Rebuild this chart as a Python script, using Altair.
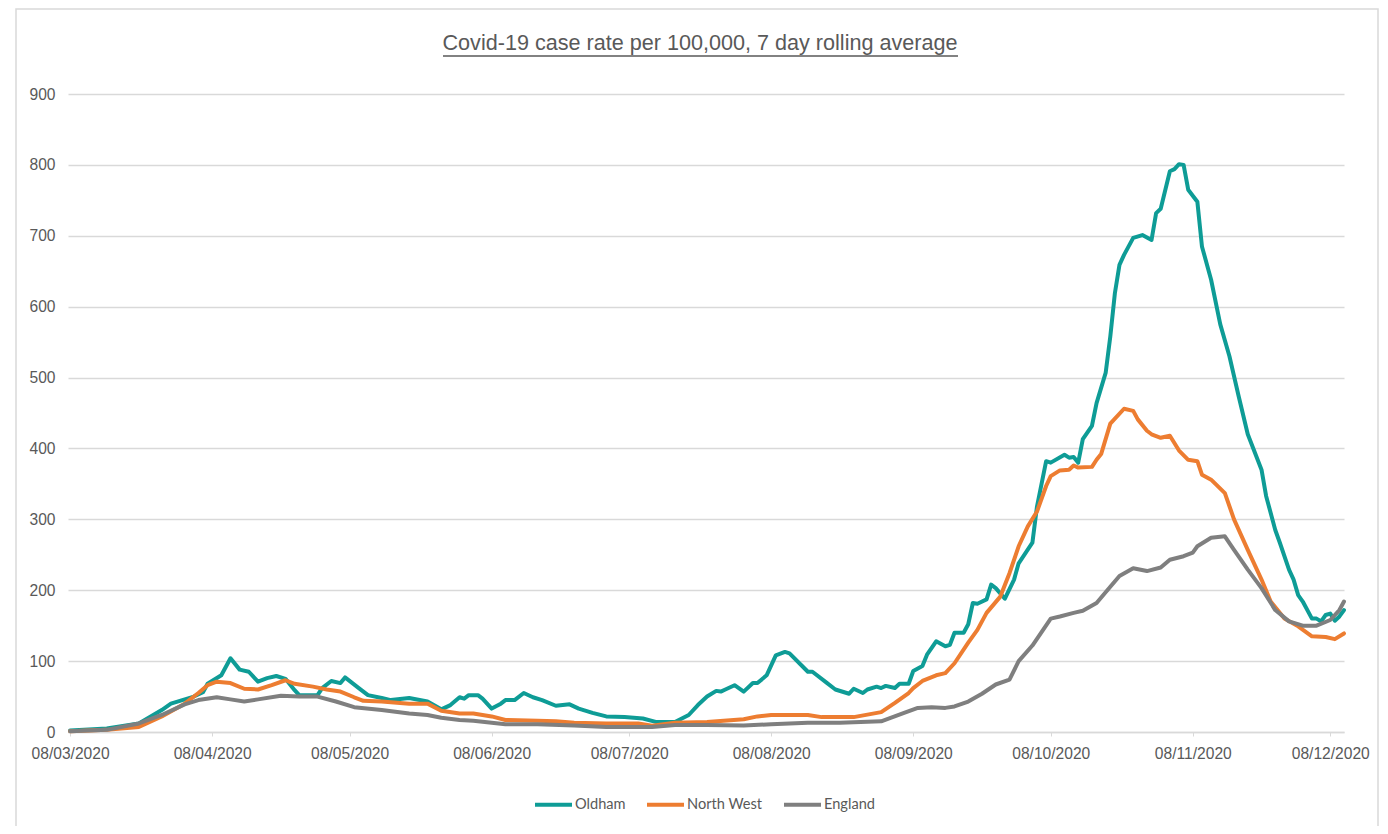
import altair as alt
import pandas as pd

START = "2020-03-08"
title_text = "Covid-19 case rate per 100,000, 7 day rolling average"

series_names = ["Oldham", "North West", "England"]
series_colors = ["#0E9C96", "#ED7D31", "#7F7F7F"]

# days since 08/03/2020
oldham_days = [0, 8, 15, 20, 22, 27, 29, 30, 33, 35,
               37, 39, 41, 43, 45, 47, 49, 50, 54, 55,
               57, 59, 60, 63, 65, 68, 70, 74, 78, 81,
               83, 85, 86, 87, 89, 90, 92, 94, 95, 97,
               99, 101, 103, 106, 109, 111, 114, 117, 121, 125,
               128, 132, 135, 137, 139, 141, 142, 143, 145, 147,
               149, 150, 152, 154, 156, 157, 161, 162, 165, 167,
               170, 171, 173, 174, 176, 177, 178, 180, 181, 183,
               184, 186, 187, 189, 191, 192, 193, 195, 196, 197,
               198, 200, 201, 202, 204, 206, 207, 210, 211, 213,
               214, 217, 218, 219, 220, 221, 223, 224, 226, 227,
               228, 229, 230, 232, 234, 236, 237, 238, 240, 241,
               242, 243, 244, 246, 247, 249, 251, 253, 255, 257,
               260, 261, 263, 264, 266, 267, 268, 269, 271, 272,
               273, 274, 275, 276, 277, 278]
oldham_vals = [2, 5, 12, 31, 40, 50, 56, 68, 80, 104,
               88, 85, 71, 76, 79, 75, 59, 52, 52, 62,
               72, 69, 77, 62, 52, 48, 45, 48, 43, 32,
               38, 49, 47, 52, 52, 47, 33, 40, 45, 45,
               55, 49, 45, 37, 39, 33, 27, 22, 21, 19,
               14, 14, 24, 38, 50, 58, 57, 60, 66, 57,
               69, 69, 80, 108, 113, 111, 85, 85, 70, 60,
               54, 61, 55, 60, 64, 62, 65, 62, 68, 68,
               86, 93, 109, 128, 121, 123, 140, 140, 152, 182,
               181, 187, 208, 203, 188, 215, 238, 267, 318, 382,
               380, 391, 387, 388, 380, 413, 432, 464, 507, 558,
               619, 659, 673, 697, 701, 694, 732, 738, 791, 794,
               801, 800, 765, 748, 685, 638, 575, 530, 474, 420,
               370, 333, 285, 267, 229, 215, 193, 184, 160, 160,
               156, 165, 167, 157, 163, 172]

nw_days = [0, 8, 15, 20, 25, 28, 30, 32, 35, 38,
           41, 44, 47, 49, 53, 56, 59, 62, 64, 68,
           74, 78, 81, 85, 88, 92, 95, 102, 106, 110,
           117, 124, 127, 132, 139, 147, 150, 153, 161, 164,
           171, 177, 180, 183, 184, 186, 189, 191, 193, 196,
           198, 200, 203, 205, 207, 209, 211, 213, 214, 216,
           218, 219, 220, 223, 224, 225, 227, 230, 232, 233,
           235, 236, 238, 240, 242, 244, 246, 247, 249, 252,
           254, 257, 260, 262, 265, 268, 271, 274, 276, 278]
nw_vals = [1, 3, 7, 22, 40, 55, 66, 71, 69, 61,
           60, 66, 73, 68, 64, 60, 57, 49, 44, 43,
           40, 40, 30, 26, 26, 22, 17, 16, 15, 13,
           12, 12, 9, 13, 14, 18, 22, 24, 24, 21,
           21, 28, 41, 55, 62, 72, 80, 83, 97, 126,
           144, 168, 191, 224, 262, 290, 311, 347, 361, 369,
           370, 376, 373, 374, 384, 392, 435, 456, 453, 441,
           425, 420, 415, 418, 397, 384, 382, 363, 356, 337,
           300, 257, 215, 184, 160, 149, 135, 134, 131, 139]

eng_days = [0, 8, 15, 20, 25, 28, 32, 35, 38, 41,
            46, 50, 54, 58, 62, 68, 74, 78, 81, 85,
            88, 95, 102, 110, 117, 127, 132, 139, 147, 153,
            161, 168, 177, 182, 185, 188, 191, 193, 196, 199,
            202, 205, 207, 210, 214, 216, 219, 221, 224, 227,
            229, 232, 235, 238, 240, 243, 245, 246, 249, 252,
            254, 257, 260, 263, 266, 269, 272, 275, 277, 278]
eng_vals = [1, 3, 12, 24, 39, 45, 49, 46, 43, 46,
            51, 50, 50, 43, 35, 31, 26, 24, 20, 17,
            16, 11, 11, 9, 7, 7, 10, 10, 9, 11,
            13, 13, 15, 27, 34, 35, 34, 36, 43, 54,
            67, 74, 100, 122, 160, 163, 168, 171, 182, 205,
            220, 231, 227, 232, 243, 248, 253, 262, 274, 276,
            257, 229, 203, 172, 156, 150, 150, 158, 172, 184]

tick_months = [3, 4, 5, 6, 7, 8, 9, 10, 11, 12]
y_ticks = list(range(0, 901, 100))

FONT = "Liberation Sans Narrow, Arial Narrow, Liberation Sans, sans-serif"
TEXT_COLOR = "#595959"
GRID = "#D9D9D9"


def frame(name, days, vals):
    dates = pd.Timestamp(START) + pd.to_timedelta(days, unit="D")
    return pd.DataFrame({"date": dates, "value": vals, "series": name})


df = pd.concat([
    frame("Oldham", oldham_days, oldham_vals),
    frame("North West", nw_days, nw_vals),
    frame("England", eng_days, eng_vals),
], ignore_index=True)

x_enc = alt.X(
    "date:T",
    scale=alt.Scale(domain=[alt.DateTime(year=2020, month=3, date=7, hours=13),
                            alt.DateTime(year=2020, month=12, date=11)]),
    axis=alt.Axis(values=[alt.DateTime(year=2020, month=m, date=8) for m in tick_months],
                  format="%d/%m/%Y", grid=False, title=None,
                  domainColor=GRID, domainWidth=1.5,
                  tickColor=GRID, tickSize=4, tickWidth=1,
                  labelPadding=10, labelFont=FONT, labelFontSize=15.6,
                  labelColor=TEXT_COLOR, labelOverlap=False, labelFlush=False),
)
y_enc = alt.Y(
    "value:Q",
    scale=alt.Scale(domain=[0, 900], nice=False),
    axis=alt.Axis(values=y_ticks, grid=True, gridColor=GRID, gridWidth=1.5,
                  domain=False, ticks=False, tickSize=0, labelPadding=13,
                  labelFont=FONT, labelFontSize=15.6, labelColor=TEXT_COLOR, title=None),
)
color_enc = alt.Color(
    "series:N",
    scale=alt.Scale(domain=series_names, range=series_colors),
    legend=alt.Legend(title=None, orient="none", legendX=465, legendY=690,
                      direction="horizontal", symbolType="stroke", symbolSize=1369,
                      symbolStrokeWidth=4, labelFont="Lato", labelFontSize=14.6,
                      labelColor=TEXT_COLOR, columnPadding=13, labelOffset=1, padding=0),
)

base = alt.Chart(df).mark_line(strokeWidth=4, strokeJoin="round", strokeCap="round").encode(
    x=x_enc, y=y_enc, color=color_enc
)
lines = [base.transform_filter(alt.datum.series == n) for n in series_names]

title_mark = alt.Chart(pd.DataFrame({"t": [title_text]})).mark_text(
    font=FONT, fontSize=21.6, color=TEXT_COLOR, align="center", baseline="alphabetic"
).encode(x=alt.value(632), y=alt.value(-44), text="t:N")

underline = alt.Chart(pd.DataFrame({"t": [0]})).mark_rule(
    color=TEXT_COLOR, strokeWidth=1.5
).encode(x=alt.value(375), x2=alt.value(890), y=alt.value(-38))

border = alt.Chart(pd.DataFrame({"t": [0]})).mark_rect(
    fillOpacity=0, stroke=GRID, strokeWidth=1.5
).encode(x=alt.value(-52), x2=alt.value(1310), y=alt.value(-85), y2=alt.value(760))

chart = alt.layer(border, *lines, title_mark, underline).properties(
    width=1276, height=638,
    autosize=alt.AutoSizeParams(type="none"),
    padding={"left": 60, "top": 86, "right": 36, "bottom": 94},
).configure_view(stroke=None)

chart.save("out.html", embed_options={"renderer": "svg", "actions": False})
